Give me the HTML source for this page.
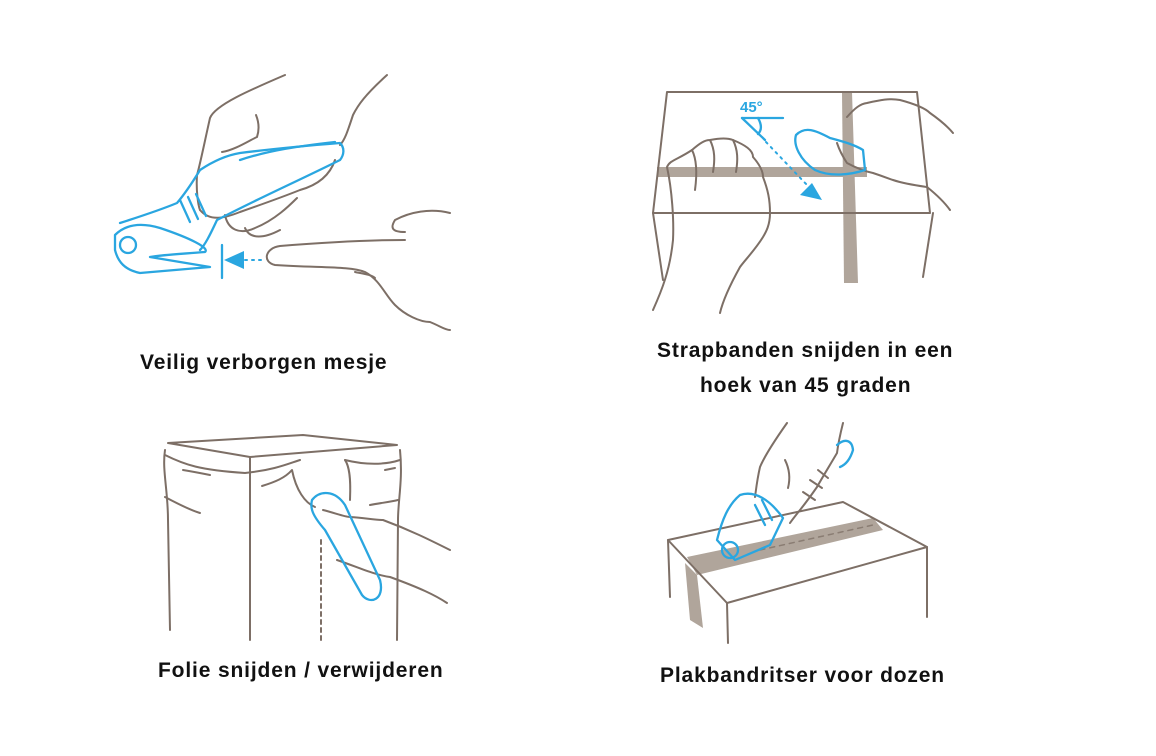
<!DOCTYPE html>
<html><head><meta charset="utf-8"><style>
html,body{margin:0;padding:0;background:#fff;width:1156px;height:756px;overflow:hidden}
svg{position:absolute;left:0;top:0}
.t{position:absolute;font-family:"Liberation Sans",sans-serif;font-size:21px;font-weight:bold;color:#111;white-space:nowrap;letter-spacing:0.85px}
</style></head><body>
<svg width="1156" height="756" viewBox="0 0 1156 756" fill="none" stroke-linecap="round" stroke-linejoin="round">
<g fill="#b0a59b" stroke="none">
<path d="M842 92 L852 92 L858 283 L844 283 Z"/>
<path d="M657 167 L867 167 L867 177 L657 177 Z"/>
<path d="M687 557 L873 518 L883 530 L697 575 Z"/>
<path d="M685 563 L697 575 L703 628 L690 620 Z"/>
</g>
<g stroke="#7d6f66" stroke-width="2">
<path d="M285 75 C250 90 215 105 210 118 C205 140 200 165 197 175 C196 190 198 205 200 210"/>
<path d="M222 152 C235 150 250 140 257 137 C260 128 258 120 256 115"/>
<path d="M387 75 C365 95 358 105 353 115 C348 130 345 140 340 145"/>
<path d="M200 210 C210 222 225 218 240 212 C260 205 285 196 300 190 C318 185 330 175 335 160"/>
<path d="M225 215 C228 230 240 235 255 228 C275 220 290 205 297 198"/>
<path d="M245 228 C250 240 265 238 280 230"/>
<path d="M450 213 C430 208 410 212 395 220 C390 228 392 232 405 232"/>
<path d="M405 240 C370 240 330 242 280 246 C265 248 262 262 275 265 C320 268 350 266 365 272 C380 280 385 295 395 305 C405 315 420 322 430 322 C440 326 445 330 450 330"/>
<path d="M355 272 C365 274 372 275 375 278"/>
<path d="M667 92 L917 92 L930 213 L653 213 L667 92"/>
<path d="M653 213 L663 280"/>
<path d="M933 213 L923 277"/>
<path d="M653 310 C662 290 670 270 673 240 C674 220 672 190 667 167 C670 160 677 160 692 150 C700 143 705 140 710 140 C720 138 728 138 733 140 C745 145 753 150 753 157 C760 165 763 172 763 177 C768 190 770 200 770 213 C770 225 766 232 763 237 C755 250 745 260 740 267 C730 285 723 300 720 313"/>
<path d="M692 150 C697 160 697 175 695 190"/>
<path d="M710 140 C715 150 715 160 713 172"/>
<path d="M733 140 C738 150 738 160 736 172"/>
<path d="M847 117 C855 108 860 104 867 103 C880 100 890 98 900 100 C915 104 925 108 930 113 C940 120 948 127 953 133"/>
<path d="M837 143 C840 152 845 160 847 163 C860 170 868 172 873 173 C885 177 890 179 893 180 C905 184 920 186 927 187 C937 195 945 203 950 210"/>
<path d="M168 443 L303 435 L397 445 L250 457 Z"/>
<path d="M250 457 L250 640"/>
<path d="M165 450 C162 470 168 490 168 520 L170 630"/>
<path d="M400 450 C403 480 398 500 398 520 L397 640"/>
<path d="M165 455 C185 465 200 470 245 473 C275 470 290 463 300 460"/>
<path d="M183 470 C195 472 205 474 210 475"/>
<path d="M165 497 C180 505 190 510 200 513"/>
<path d="M262 486 C275 482 285 478 292 470 C296 490 305 503 315 507"/>
<path d="M345 460 C352 470 350 495 350 500"/>
<path d="M345 460 C365 465 385 465 400 460"/>
<path d="M385 470 L395 468"/>
<path d="M370 505 C380 503 390 502 398 500"/>
<path d="M323 510 C335 513 345 517 350 517 C365 518 375 520 383 520 C410 530 430 540 450 550"/>
<path d="M337 560 C360 568 375 575 390 577 C420 588 435 595 447 603"/>
<path d="M668 540 L843 502 L927 547 L727 603 Z"/>
<path d="M668 540 L670 597"/>
<path d="M727 603 L728 643"/>
<path d="M927 547 L927 617"/>
<path d="M787 423 C775 440 765 455 760 467 C757 480 756 490 755 497"/>
<path d="M843 423 C840 435 838 445 837 453 C830 465 822 478 817 487 C810 497 804 505 800 510 C796 515 792 520 790 523"/>
<path d="M785 460 C790 470 790 480 788 488"/>
<path d="M803 492 L815 500 M810 480 L822 488 M818 470 L828 478"/>
</g>
<g stroke="#7d6f66" stroke-width="2" stroke-dasharray="4 4">
<path d="M321 540 L321 640"/>
</g>
<g stroke="#8a7d73" stroke-width="1.5" stroke-dasharray="5 5">
<path d="M760 550 L873 525"/>
</g>
<g stroke="#2aa6e0" stroke-width="2.3">
<path d="M120 223 C145 215 165 208 177 203 C188 190 195 178 200 170 C215 160 228 155 240 153 C280 148 315 145 340 143 C345 148 344 155 340 160 C300 180 255 200 217 220 C210 235 205 245 200 250"/>
<path d="M240 160 C270 150 300 146 335 142"/>
<path d="M115 235 C125 225 140 222 160 228 C190 238 210 248 205 252 C180 254 160 255 150 257 L210 267 L140 273 C125 270 118 262 115 250 Z"/>
<circle cx="128" cy="245" r="8"/>
<path d="M180 200 L190 222 M188 197 L198 219 M196 194 L206 216"/>
<path d="M222 245 L222 278"/>
<path d="M796 135 C805 126 815 130 830 138 C845 142 855 145 863 150 L865 170 C850 175 830 177 815 170 C800 160 793 145 796 135 Z"/>
<path d="M742 118 L783 118"/>
<path d="M742 118 L765 140"/>
<path d="M758 118 C762 125 762 130 758 134"/>
<path d="M312 500 C320 490 335 490 345 505 L380 580 C385 600 370 605 362 595 L325 530 C312 515 310 508 312 500 Z"/>
<path d="M717 540 C722 520 728 505 740 495 C755 490 770 500 783 518 L770 545 L735 560 Z"/>
<path d="M837 445 C845 438 852 440 853 450 C850 460 845 465 840 467"/>
<circle cx="730" cy="550" r="8"/>
<path d="M755 505 L765 525 M762 500 L772 520"/>
</g>
<g stroke="#2aa6e0" stroke-width="2" stroke-dasharray="2 5">
<path d="M245 260 L264 260"/>
<path d="M766 142 L808 186"/>
</g>
<path d="M224 260 L244 251 L244 269 Z" fill="#2aa6e0"/>
<path d="M822 200 L800 195 L812 183 Z" fill="#2aa6e0"/>
<text x="740" y="112" font-family="Liberation Sans,sans-serif" font-size="15" font-weight="bold" fill="#2aa6e0">45°</text>
</svg>
<div class="t" style="left:140px;top:351px">Veilig verborgen mesje</div>
<div class="t" style="left:657px;top:339px">Strapbanden snijden in een</div>
<div class="t" style="left:700px;top:374px">hoek van 45 graden</div>
<div class="t" style="left:158px;top:659px">Folie snijden / verwijderen</div>
<div class="t" style="left:660px;top:664px">Plakbandritser voor dozen</div>
</body></html>
